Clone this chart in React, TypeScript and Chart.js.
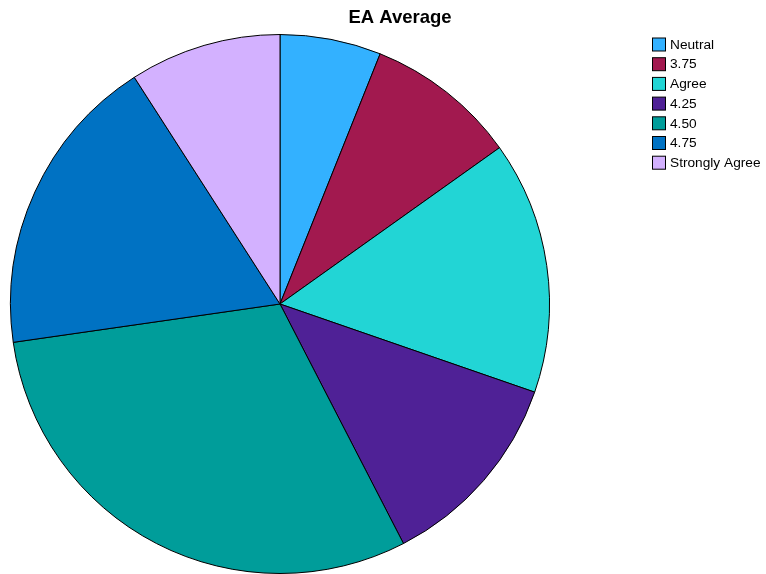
import React, { useEffect, useRef } from "react";
import { Chart, registerables } from "chart.js";

Chart.register(...registerables);

const categories = ["Neutral", "3.75", "Agree", "4.25", "4.50", "4.75", "Strongly Agree"];
const counts = [2, 3, 5, 4, 10, 6, 3];
const colors = ["#33b1ff", "#a2194f", "#22d5d5", "#4f2196", "#009d9a", "#0072c3", "#d3b1ff"];
const titleText = "EA Average";

const overlayPlugin = {
  id: "overlay",
  afterDraw(chart: any) {
    const ctx = chart.ctx;
    ctx.save();
    ctx.fillStyle = "#000";
    ctx.font = "bold 18.5px 'Liberation Sans', Arial, sans-serif";
    ctx.textAlign = "center";
    ctx.textBaseline = "middle";
    ctx.fillText(titleText, 400, 18);
    ctx.font = "13.7px 'Liberation Sans', Arial, sans-serif";
    ctx.textAlign = "left";
    const labels = chart.data.labels as string[];
    const bg = chart.data.datasets[0].backgroundColor as string[];
    labels.forEach((lab, i) => {
      const y = 44 + i * 19.7;
      ctx.fillStyle = bg[i];
      ctx.fillRect(652.5, y - 6, 13, 13);
      ctx.strokeStyle = "#000";
      ctx.lineWidth = 1;
      ctx.strokeRect(652.5, y - 6, 13, 13);
      ctx.fillStyle = "#000";
      ctx.fillText(lab, 670, y + 1);
    });
    ctx.restore();
  },
};

export default function App() {
  const ref = useRef<HTMLCanvasElement>(null);
  useEffect(() => {
    const chart = new Chart(ref.current!, {
      type: "pie",
      data: {
        labels: categories,
        datasets: [
          {
            data: counts,
            backgroundColor: colors,
            borderColor: "#000",
            borderWidth: 1,
          },
        ],
      },
      options: {
        responsive: false,
        animation: false,
        layout: { padding: { left: 10, right: 216, top: 34, bottom: 0 } },
        plugins: {
          legend: { display: false },
          tooltip: { enabled: false },
          title: { display: false },
        },
      },
      plugins: [overlayPlugin],
    });
    return () => chart.destroy();
  }, []);
  return (
    <div style={{ position: "fixed", left: 0, top: 0, width: 766, height: 574, background: "#fff" }}>
      <canvas ref={ref} width={766} height={574} />
    </div>
  );
}
